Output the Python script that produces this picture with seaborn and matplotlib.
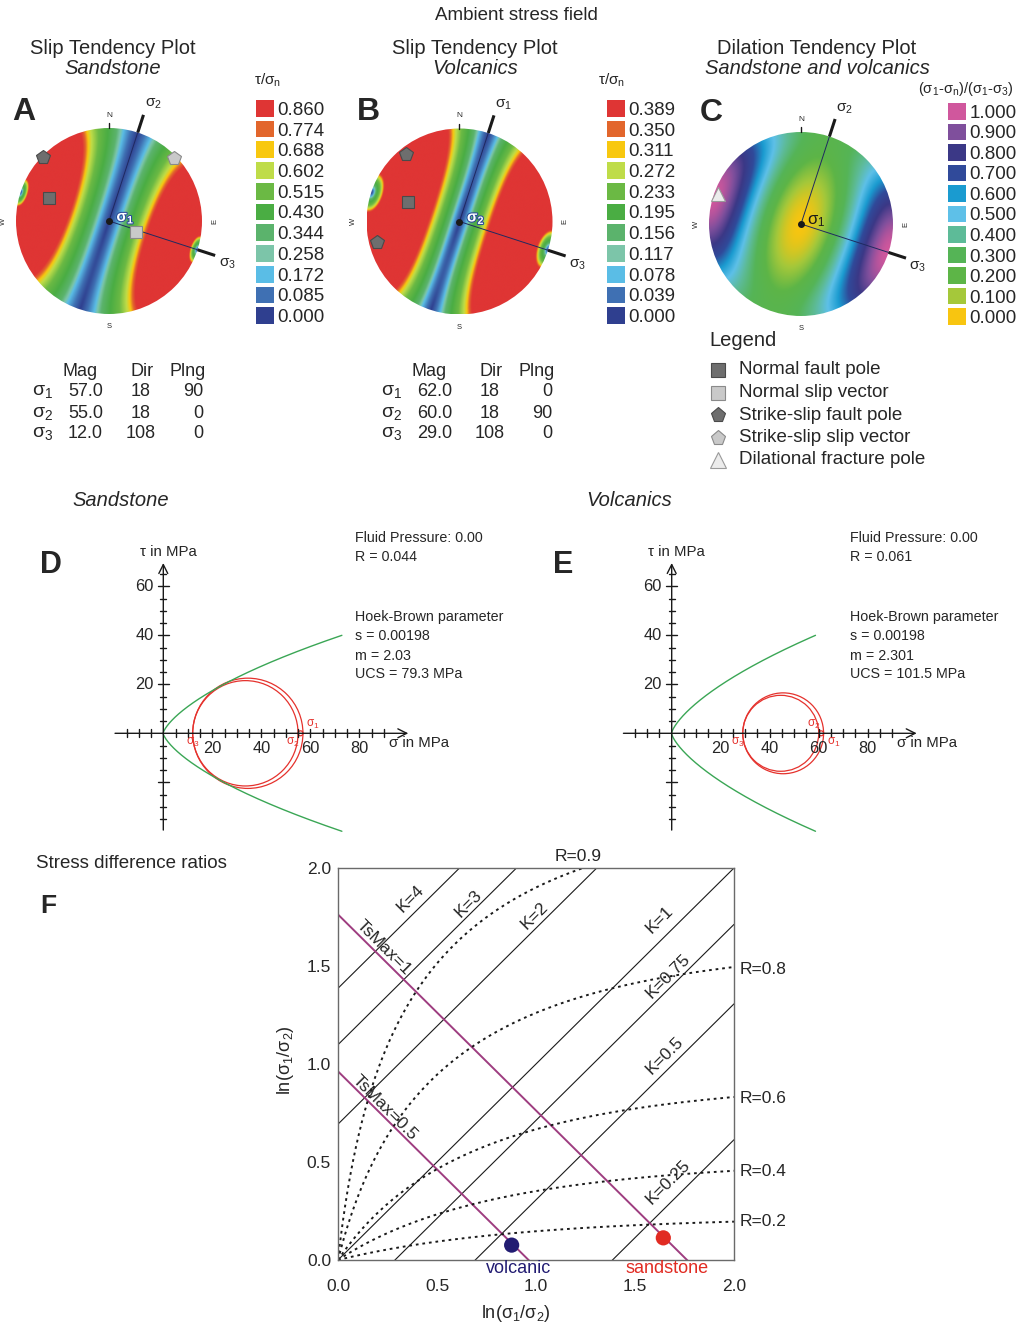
import numpy as np
import matplotlib
matplotlib.use("Agg")
import matplotlib.pyplot as plt
import matplotlib.patheffects as pe
from matplotlib import font_manager as fm
from matplotlib.colors import LinearSegmentedColormap, ListedColormap
from matplotlib.patches import Circle
import seaborn as sns

W, H = 1017, 1326

# ---------------- data ----------------
# principal stresses (magnitude MPa, dip direction, plunge) as in the tables
sand_mag = [57.0, 55.0, 12.0]
sand_dir = [18, 18, 108]
sand_plng = [90, 0, 0]
volc_mag = [62.0, 60.0, 29.0]
volc_dir = [18, 18, 108]
volc_plng = [0, 90, 0]
# stress used for the dilation plot (estimated from the colours in C)
dil_mag = [57.0, 46.0, 12.0]

slip_ticks_sand = [0.860, 0.774, 0.688, 0.602, 0.515, 0.430, 0.344, 0.258, 0.172, 0.085, 0.000]
slip_ticks_volc = [0.389, 0.350, 0.311, 0.272, 0.233, 0.195, 0.156, 0.117, 0.078, 0.039, 0.000]
dil_ticks = [1.000, 0.900, 0.800, 0.700, 0.600, 0.500, 0.400, 0.300, 0.200, 0.100, 0.000]
slip_colors = ["#df3534", "#e2662c", "#f8c80f", "#bfdc48", "#6bb944", "#4aad43",
               "#5bb36c", "#7cc5a9", "#5abde6", "#3f70b3", "#2f3f8f"]
dil_colors = ["#d0579d", "#7f4f9c", "#3b3886", "#304a9a", "#1a9bd0", "#5ec0e8",
              "#5dbb98", "#55b456", "#5db547", "#a5c83a", "#f8c510"]

# fault data (trend, plunge) and symbol kind
sand_pt_kind = ["ssp", "ssv", "nfp", "nsv"]
sand_pt_trend = [314, 46, 291, 112]
sand_pt_plunge = [1, 3, 31, 64]
volc_pt_kind = ["ssp", "nfp", "ssp"]
volc_pt_trend = [322, 291, 256]
volc_pt_plunge = [8, 40, 9]
dil_pt_kind = ["dfp"]
dil_pt_trend = [290]
dil_pt_plunge = [5]

legend_kinds = ["nfp", "nsv", "ssp", "ssv", "dfp"]
legend_names = ["Normal fault pole", "Normal slip vector", "Strike-slip fault pole",
                "Strike-slip slip vector", "Dilational fracture pole"]

# Hoek-Brown parameters
sand_hb = dict(s=0.00198, m=2.03, ucs=79.3, R=0.044, pf=0.00)
volc_hb = dict(s=0.00198, m=2.301, ucs=101.5, R=0.061, pf=0.00)

# stress difference ratio diagram
k_values = [4, 3, 2, 1, 0.75, 0.5, 0.25]
r_values = [0.9, 0.8, 0.6, 0.4, 0.2]
ts_values = [1, 0.5]
pt_names = ["volcanic", "sandstone"]
pt_x = [0.877, 1.643]
pt_y = [0.076, 0.113]

# ---------------- style ----------------
sns.set_theme(style="white")
plt.rcParams["font.family"] = ["Liberation Sans", "DejaVu Sans"]
plt.rcParams["mathtext.fontset"] = "custom"
plt.rcParams["mathtext.rm"] = "Liberation Sans"
plt.rcParams["mathtext.it"] = "Liberation Sans:italic"
plt.rcParams["mathtext.bf"] = "Liberation Sans:bold"
plt.rcParams["mathtext.default"] = "regular"

_names = {f.name for f in fm.fontManager.ttflist}
if "Liberation Sans Narrow" in _names:
    NARROW, NSIZE = ["Liberation Sans Narrow", "Liberation Sans"], 12.5
else:
    NARROW, NSIZE = ["Liberation Sans", "DejaVu Sans"], 10.3

MARK = {"nfp": dict(marker="s", mfc="#6e6e6e", mec="#4a4a4a"),
        "nsv": dict(marker="s", mfc="#c9c9c9", mec="#8a8a8a"),
        "ssp": dict(marker="p", mfc="#6e6e6e", mec="#4a4a4a"),
        "ssv": dict(marker="p", mfc="#c9c9c9", mec="#8a8a8a"),
        "dfp": dict(marker="^", mfc="#ececec", mec="#9a9a9a")}

# fraction of the value range at which each colour box is reached
slip_stops = [0.59, 0.555, 0.52, 0.48, 0.40, 0.30, 0.21, 0.17, 0.14, 0.07, 0.0]
dil_stops = [1.0, 0.9, 0.8, 0.7, 0.6, 0.5, 0.4, 0.3, 0.2, 0.1, 0.0]

fig = plt.figure(figsize=(W / 100, H / 100), dpi=100)


def rect(l, t, w, h):
    return [l / W, 1 - (t + h) / H, w / W, h / H]


ov = fig.add_axes([0, 0, 1, 1])
ov.set_xlim(0, W)
ov.set_ylim(H, 0)
ov.axis("off")
ov.set_zorder(20)


def txt(x, y, s, **kw):
    kw.setdefault("va", "center")
    ov.text(x, y, s, **kw)


# ---------------- stereonets ----------------
def axis_vec(trend, plunge):
    t, p = np.radians(trend), np.radians(plunge)
    return np.array([np.cos(p) * np.cos(t), np.cos(p) * np.sin(t), np.sin(p)])


def project(trend, plunge):
    th = np.radians(90 - np.asarray(plunge, float))
    r = np.sqrt(2) * np.sin(th / 2)
    t = np.radians(trend)
    return r * np.sin(t), r * np.cos(t)


def pole_grid(n=451):
    g = np.linspace(-1, 1, n)
    X, Y = np.meshgrid(g, g)
    r = np.hypot(X, Y)
    th = 2 * np.arcsin(np.clip(r / np.sqrt(2), 0, 1))
    tr = np.arctan2(X, Y)
    return np.stack([np.sin(th) * np.cos(tr), np.sin(th) * np.sin(tr), np.cos(th)])


def normal_shear(mag, dirs, plngs):
    S = np.zeros((3, 3))
    for m, d, p in zip(mag, dirs, plngs):
        v = axis_vec(d, p)
        S += m * np.outer(v, v)
    nv = pole_grid()
    t = np.einsum("ij,jab->iab", S, nv)
    sn = (nv * t).sum(0)
    tau = np.sqrt(np.maximum((t * t).sum(0) - sn ** 2, 0))
    return sn, tau


def stereonet(cx, cy, rad, field, colors, stops, vmax, dirs, plngs, kinds, trends, plunges,
              center_white=True):
    ax = fig.add_axes(rect(cx - 1.5 * rad, cy - 1.5 * rad, 3 * rad, 3 * rad))
    ax.set_xlim(-1.5, 1.5)
    ax.set_ylim(-1.5, 1.5)
    ax.axis("off")
    seq = list(zip(stops[::-1], colors[::-1]))
    if seq[-1][0] < 1:
        seq.append((1.0, colors[0]))
    cmap = LinearSegmentedColormap.from_list("c", seq, N=512)
    im = ax.imshow(field, extent=(-1, 1, -1, 1), origin="lower", cmap=cmap,
                   vmin=0, vmax=vmax, interpolation="bilinear")
    clip = Circle((0, 0), 1, facecolor="none", edgecolor="none")
    ax.add_patch(clip)
    im.set_clip_path(clip)
    # cardinal marks
    ax.plot([0, 0], [1.0, 1.05], color="k", lw=1)
    ax.text(0, 1.1, "N", ha="center", va="bottom", fontsize=6)
    ax.text(0, -1.1, "S", ha="center", va="top", fontsize=5.5)
    ax.text(1.1, 0, "E", ha="left", va="center", fontsize=5.5, rotation=90)
    ax.text(-1.1, 0, "W", ha="right", va="center", fontsize=5.5, rotation=90)
    # principal axes
    for i, (d, p) in enumerate(zip(dirs, plngs)):
        lab = r"$\sigma_%d$" % (i + 1)
        if p == 90:
            ax.plot(0, 0, "o", color="k", ms=4, zorder=6)
            if center_white:
                ax.text(0.08, 0.03, lab, color="white", fontsize=11, fontweight="bold",
                        ha="left", va="center", zorder=7,
                        path_effects=[pe.withStroke(linewidth=1.5, foreground="#2b4a9a")])
            else:
                ax.text(0.06, 0.03, lab, color="k", fontsize=12,
                        ha="left", va="center", zorder=7)
        else:
            sx, sy = np.sin(np.radians(d)), np.cos(np.radians(d))
            ax.plot([0, sx], [0, sy], color="#1f2a60", lw=0.7, zorder=5)
            ax.plot([sx, 1.2 * sx], [sy, 1.2 * sy], color="k", lw=2.2, zorder=5,
                    solid_capstyle="butt")
            ax.text(1.24 * sx, 1.24 * sy, lab, fontsize=11, ha="left",
                    va="bottom" if sy > 0 else "top")
    for k, tr, pl in zip(kinds, trends, plunges):
        x, y = project(tr, pl)
        ax.plot(x, y, ls="none", ms=10 if MARK[k]["marker"] != "s" else 8.5, mew=0.8,
                zorder=8, **MARK[k])
    return ax


def colorbar(l, t, w, h, colors, ticks):
    cax = fig.add_axes(rect(l, t, w, h))
    data = np.arange(len(ticks))[::-1].reshape(-1, 1)
    sns.heatmap(data, cmap=ListedColormap(colors[::-1]), vmin=0, vmax=len(ticks) - 1,
                cbar=False, linewidths=1.5, linecolor="white", ax=cax,
                xticklabels=False, yticklabels=["%.3f" % v for v in ticks])
    cax.yaxis.tick_right()
    cax.tick_params(axis="y", length=0, pad=1, labelsize=13.5, labelrotation=0)
    return cax


sn, tau = normal_shear(sand_mag, sand_dir, sand_plng)
stereonet(109, 221, 93, tau / sn, slip_colors, slip_stops, slip_ticks_sand[0],
          sand_dir, sand_plng, sand_pt_kind, sand_pt_trend, sand_pt_plunge)
sn, tau = normal_shear(volc_mag, volc_dir, volc_plng)
stereonet(459.5, 221.5, 93, tau / sn, slip_colors, slip_stops, slip_ticks_volc[0],
          volc_dir, volc_plng, volc_pt_kind, volc_pt_trend, volc_pt_plunge)
sn, tau = normal_shear(dil_mag, sand_dir, sand_plng)
td = (max(dil_mag) - sn) / (max(dil_mag) - min(dil_mag))
stereonet(801, 224, 92, td, dil_colors, dil_stops, 1.0, sand_dir, sand_plng,
          dil_pt_kind, dil_pt_trend, dil_pt_plunge, center_white=False)

colorbar(254, 98, 22, 228, slip_colors, slip_ticks_sand)
colorbar(605, 98, 22, 228, slip_colors, slip_ticks_volc)
colorbar(946, 101, 22, 226, dil_colors, dil_ticks)

txt(516, 16, "Ambient stress field", ha="center", fontsize=13.5)
for cxt, t1, t2 in [(113, "Slip Tendency Plot", "Sandstone"),
                    (475, "Slip Tendency Plot", "Volcanics"),
                    (817, "Dilation Tendency Plot", "Sandstone and volcanics")]:
    txt(cxt, 49, t1, ha="center", fontsize=14.5)
    txt(cxt, 68, t2, ha="center", fontsize=14.5, style="italic")
txt(254, 80, r"$\tau/\sigma_n$", ha="left", fontsize=11)
txt(598, 80, r"$\tau/\sigma_n$", ha="left", fontsize=11)
txt(1013, 89, r"$(\sigma_1$-$\sigma_n)/(\sigma_1$-$\sigma_3)$", ha="right", fontsize=10.5)
for x, y, s in [(12, 112, "A"), (357, 112, "B"), (700, 113, "C")]:
    txt(x, y, s, fontsize=23, fontweight="bold")


# stress tables
def table(x0, mag, dirs, plngs):
    txt(x0 + 48, 372, "Mag", ha="center", fontsize=13)
    txt(x0 + 110, 372, "Dir", ha="center", fontsize=13)
    txt(x0 + 156, 372, "Plng", ha="center", fontsize=13)
    for i in range(3):
        y = 392 + 21 * i
        txt(x0, y, r"$\sigma_%d$" % (i + 1), ha="left", fontsize=14)
        txt(x0 + 71, y, "%.1f" % mag[i], ha="right", fontsize=13)
        txt(x0 + 109, y, "%d" % dirs[i], ha="center", fontsize=13)
        txt(x0 + 171, y, "%d" % plngs[i], ha="right", fontsize=13)


table(32, sand_mag, sand_dir, sand_plng)
table(381, volc_mag, volc_dir, volc_plng)

# legend
txt(709, 340, "Legend", ha="left", fontsize=14.5)
for i, (k, name) in enumerate(zip(legend_kinds, legend_names)):
    y = 370 + 22.5 * i
    ov.plot(718, y, ls="none", ms=11 if MARK[k]["marker"] != "s" else 9.5, mew=0.8, **MARK[k])
    txt(739, y, name, ha="left", fontsize=13.5)

# ---------------- Mohr diagrams ----------------
SCALE = 2.45  # px per MPa


def hb_envelope(s, m, ucs, tau_max=40.0):
    s3t = -s * ucs / m
    s3 = np.concatenate([s3t + np.geomspace(1e-7, 1, 300) * (1 - s3t),
                         np.linspace(1, 80, 2000)])
    s3 = s3[s3 > s3t]
    a = np.sqrt(m * s3 / ucs + s)
    s1 = s3 + ucs * a
    d = 1 + m / (2 * a)
    snv = (s1 + s3) / 2 - (s1 - s3) / 2 * (d - 1) / (d + 1)
    tv = (s1 - s3) * np.sqrt(d) / (d + 1)
    keep = tv <= tau_max
    return np.r_[s3t, snv[keep]], np.r_[0, tv[keep]]


def mohr(ox, oy, l, w, mags, hb, lab_pos):
    t, h = 520, 320
    ax = fig.add_axes(rect(l, t, w, h))
    ax.set_xlim((l - ox) / SCALE, (l + w - ox) / SCALE)
    ax.set_ylim((oy - (t + h)) / SCALE, (oy - t) / SCALE)
    ax.axis("off")
    ax.annotate("", xy=(100, 0), xytext=(-19.7, 0),
                arrowprops=dict(arrowstyle="->", lw=1.0, color="k", mutation_scale=16,
                                shrinkA=0, shrinkB=0))
    ax.annotate("", xy=(0, 69.5), xytext=(0, -39.5),
                arrowprops=dict(arrowstyle="->", lw=1.0, color="k", mutation_scale=16,
                                shrinkA=0, shrinkB=0))
    for v in range(-15, 95, 5):
        if v:
            ax.plot([v, v], [-1.6, 1.6], color="k", lw=1.0)
    for v in range(-35, 70, 5):
        if v:
            e = 2.2 if v % 20 == 0 else 1.3
            ax.plot([-e, e], [v, v], color="k", lw=1.0)
    for v in (20, 40, 60, 80):
        ax.text(v, -3.0, str(v), ha="center", va="top", fontsize=NSIZE + 1.5, family=NARROW)
    for v in (20, 40, 60):
        ax.text(-4, v, str(v), ha="right", va="center", fontsize=NSIZE + 1.5, family=NARROW)
    ax.text(-9.5, 71, "τ in MPa", ha="left", va="bottom", fontsize=NSIZE + 0.5, family=NARROW)
    ax.text(92, -1.0, "σ in MPa", ha="left", va="top", fontsize=NSIZE + 0.5, family=NARROW)
    snv, tv = hb_envelope(hb["s"], hb["m"], hb["ucs"])
    ax.plot(np.r_[snv[::-1], snv], np.r_[-tv[::-1], tv], color="#3aa655", lw=1.0)
    s1, s2, s3 = mags
    for a, b in [(s1, s3), (s2, s3), (s1, s2)]:
        ax.add_patch(Circle(((a + b) / 2, 0), abs(a - b) / 2, fill=False,
                            ec="#e5322d", lw=0.9))
    for i, (x, y) in enumerate(lab_pos):
        ax.text(x, y, r"$\sigma_%d$" % (i + 1), color="#e5322d", fontsize=8.5,
                ha="center", va="center")
    return ax


mohr(163.3, 733.3, 95, 420, sand_mag, sand_hb, [(61, 3.8), (53, -3.6), (12, -3.6)])
mohr(671.7, 733.3, 600, 417, volc_mag, volc_hb, [(66, -3.6), (58, 3.8), (27, -3.6)])

for x0, hb in [(355, sand_hb), (850, volc_hb)]:
    lines = [(538, "Fluid Pressure: %.2f" % hb["pf"]), (557, "R = %.3f" % hb["R"]),
             (617, "Hoek-Brown parameter"), (636, "s = %.5f" % hb["s"]),
             (655.5, "m = %g" % hb["m"]), (674.5, "UCS = %.1f MPa" % hb["ucs"])]
    for y, s in lines:
        txt(x0, y, s, ha="left", fontsize=NSIZE, family=NARROW)

txt(72, 500, "Sandstone", ha="left", fontsize=14.5, style="italic")
txt(586, 500, "Volcanics", ha="left", fontsize=14.5, style="italic")
txt(40, 565, "D", ha="left", fontsize=22, fontweight="bold")
txt(553, 565, "E", ha="left", fontsize=22, fontweight="bold")

# ---------------- stress difference ratios ----------------
axF = fig.add_axes(rect(338, 868, 396, 392))
xs = np.linspace(0, 2, 600)
for k in k_values:
    axF.plot(xs, xs + np.log(k), color="k", lw=0.8)
for ts in ts_values:
    axF.plot(xs, 2 * np.arcsinh(ts) - xs, color="#9e3d80", lw=1.4)
xr = np.linspace(1e-4, 2, 1000)
for r in r_values:
    axF.plot(xr, np.log((1 + (np.exp(xr) - 1) / (1 - r)) / np.exp(xr)),
             color="k", lw=1.4, ls=(0, (1.4, 2.0)))
pal = {"volcanic": "#221c72", "sandstone": "#e12b22"}
sns.scatterplot(x=pt_x, y=pt_y, hue=pt_names, palette=pal, s=120, legend=False,
                edgecolor="none", ax=axF, zorder=6, clip_on=False)
axF.set_xlim(0, 2)
axF.set_ylim(0, 2)
axF.set_xticks([0, 0.5, 1, 1.5, 2])
axF.set_yticks([0, 0.5, 1, 1.5, 2])
axF.set_xticklabels(["0.0", "0.5", "1.0", "1.5", "2.0"])
axF.set_yticklabels(["0.0", "0.5", "1.0", "1.5", "2.0"])
axF.tick_params(axis="x", length=0, pad=14, labelsize=12.5)
axF.tick_params(axis="y", length=0, pad=5, labelsize=12.5)
for sp in axF.spines.values():
    sp.set_color("#6a6a6a")
    sp.set_linewidth(1.0)

k_lab = {4: (0.364, 1.843), 3: (0.658, 1.818), 2: (0.995, 1.759), 1: (1.626, 1.734),
         0.75: (1.668, 1.448), 0.5: (1.652, 1.044), 0.25: (1.668, 0.396)}
for k in k_values:
    x, y = k_lab[k]
    axF.text(x, y, "K=%g" % k, rotation=45, ha="center", va="center", fontsize=12.5)
for ts, (x, y) in zip(ts_values, [(0.229, 1.591), (0.237, 0.774)]):
    axF.text(x, y, "TsMax=%g" % ts, rotation=-45, ha="center", va="center", fontsize=12.5)
r_lab = {0.9: (1.214, 2.058, "center"), 0.8: (2.03, 1.481, "left"), 0.6: (2.03, 0.825, "left"),
         0.4: (2.03, 0.449, "left"), 0.2: (2.03, 0.194, "left")}
for r in r_values:
    x, y, ha = r_lab[r]
    axF.text(x, y, "R=%g" % r, ha=ha, va="center", fontsize=12.5, clip_on=False)
for name, x in zip(pt_names, [0.911, 1.66]):
    axF.text(x, -0.042, name, color=pal[name], ha="center", va="center", fontsize=13)

txt(516, 1313, r"ln($\sigma_1$/$\sigma_2$)", ha="center", fontsize=13)
txt(285, 1060, r"ln($\sigma_1$/$\sigma_2$)", ha="center", fontsize=13, rotation=90)
txt(36, 863, "Stress difference ratios", ha="left", fontsize=13.5)
txt(40, 906, "F", ha="left", fontsize=19, fontweight="bold")

fig.savefig("out.png", dpi=100)
